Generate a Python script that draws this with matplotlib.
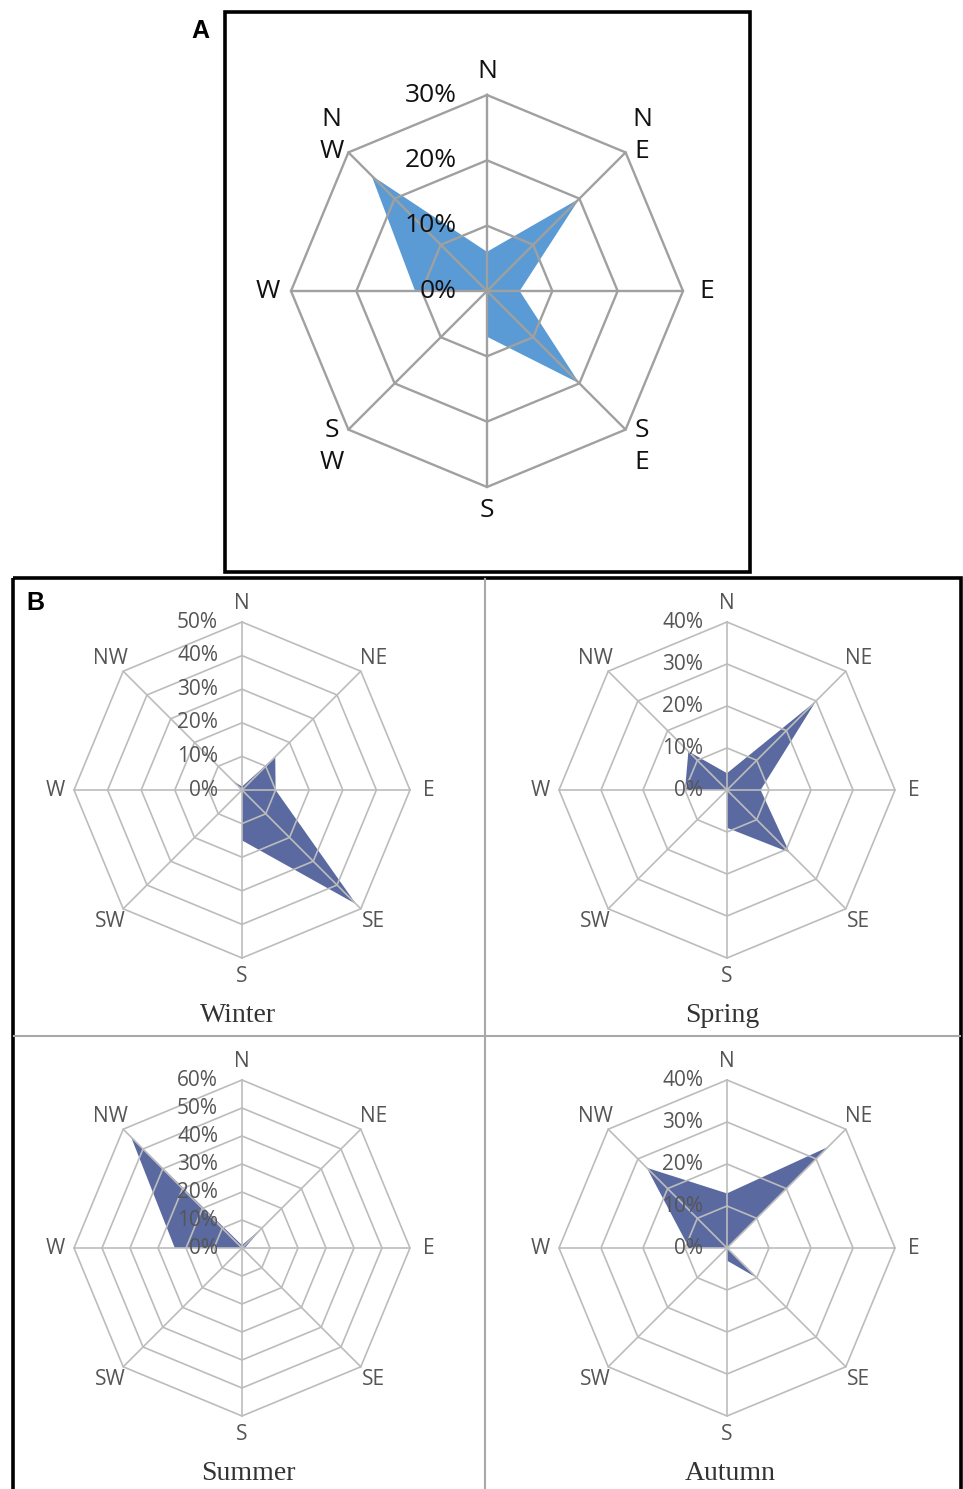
import numpy as np
import matplotlib.pyplot as plt
from matplotlib.patches import Rectangle

W, H = 963, 1489

directions = ["N", "NE", "E", "SE", "S", "SW", "W", "NW"]
labels_a = ["N", "N\nE", "E", "S\nE", "S", "S\nW", "W", "N\nW"]

# wind direction frequency, %
annual = [6, 20, 5, 20, 7, 0, 11, 25]
winter = [1, 14, 10, 48, 15, 0, 0, 4]
spring = [4, 30, 8, 21, 9, 0, 10, 13]
summer = [1, 10, 1, 0, 0, 0, 24, 56]
autumn = [13, 34, 0, 10, 3, 0, 9, 27]

ticks_a = [0, 10, 20, 30]
ticks_winter = [0, 10, 20, 30, 40, 50]
ticks_spring = [0, 10, 20, 30, 40]
ticks_summer = [0, 10, 20, 30, 40, 50, 60]
ticks_autumn = [0, 10, 20, 30, 40]

fig = plt.figure(figsize=(W / 100, H / 100), dpi=100)

bg = fig.add_axes([0, 0, 1, 1])
bg.set_xlim(0, W)
bg.set_ylim(H, 0)
bg.axis("off")
bg.add_patch(Rectangle((225, 12), 525, 560, fill=False, ec="black", lw=2.6))
bg.add_patch(Rectangle((13, 578), 948, 930, fill=False, ec="black", lw=2.6, clip_on=False))
bg.plot([485, 485], [579, H], color="#a8a8a8", lw=1.5)
bg.plot([14, 960], [1036, 1036], color="#a8a8a8", lw=1.5)
bg.text(200, 31, "A", fontsize=18, fontweight="bold", ha="center", va="center",
        family="Liberation Sans")
bg.text(35, 603, "B", fontsize=18, fontweight="bold", ha="center", va="center",
        family="Liberation Sans")


def radar(cx, cy, R, values, ticks, labels, fill_color, grid_color, grid_lw,
          fs, label_color, tick_dx, lab_r):
    ax = fig.add_axes([(cx - R) / W, (H - cy - R) / H, 2 * R / W, 2 * R / H],
                      projection="polar")
    ax.set_theta_zero_location("N")
    ax.set_theta_direction(-1)
    ax.set_axis_off()
    rmax = ticks[-1]
    ax.set_ylim(0, rmax)
    theta = np.deg2rad(np.arange(0, 360, 45))
    tc = np.append(theta, theta[0])
    vc = np.append(values, values[0])
    ax.fill(tc, vc, color=fill_color, lw=0, zorder=1, clip_on=False)
    for t in ticks[1:]:
        ax.plot(tc, [t] * len(tc), color=grid_color, lw=grid_lw, zorder=2, clip_on=False)
    for a in theta:
        ax.plot([a, a], [0, rmax], color=grid_color, lw=grid_lw, zorder=2, clip_on=False)
    for t in ticks:
        ax.annotate(f"{t}%", xy=(0, t), xytext=(-tick_dx, 0), textcoords="offset pixels",
                    ha="right", va="center", fontsize=fs, color=label_color,
                    family="Open Sans", zorder=3, annotation_clip=False)
    for a, lab in zip(theta, labels):
        ax.text(a, rmax * lab_r, lab, ha="center", va="center", fontsize=fs,
                color=label_color, family="Open Sans", linespacing=1.35, clip_on=False)
    return ax


radar(487, 291, 196, annual, ticks_a, labels_a, "#5B9BD5", "#a0a0a0", 1.7,
      19, "#111111", 30, 1.12)

b_fill = "#5A6AA0"
b_grid = "#bcbcbc"
radar(242, 790, 168, winter, ticks_winter, directions, b_fill, b_grid, 1.2,
      15, "#555555", 24, 1.11)
radar(727, 790, 168, spring, ticks_spring, directions, b_fill, b_grid, 1.2,
      15, "#555555", 24, 1.11)
radar(242, 1248, 168, summer, ticks_summer, directions, b_fill, b_grid, 1.2,
      15, "#555555", 24, 1.11)
radar(727, 1248, 168, autumn, ticks_autumn, directions, b_fill, b_grid, 1.2,
      15, "#555555", 24, 1.11)

for x, y, name in [(238, 1015, "Winter"), (722, 1015, "Spring"),
                   (248, 1473, "Summer"), (730, 1473, "Autumn")]:
    bg.text(x, y, name, fontsize=20, ha="center", va="center", color="#333333",
            family="Liberation Serif")

fig.savefig("out.png", dpi=100)
